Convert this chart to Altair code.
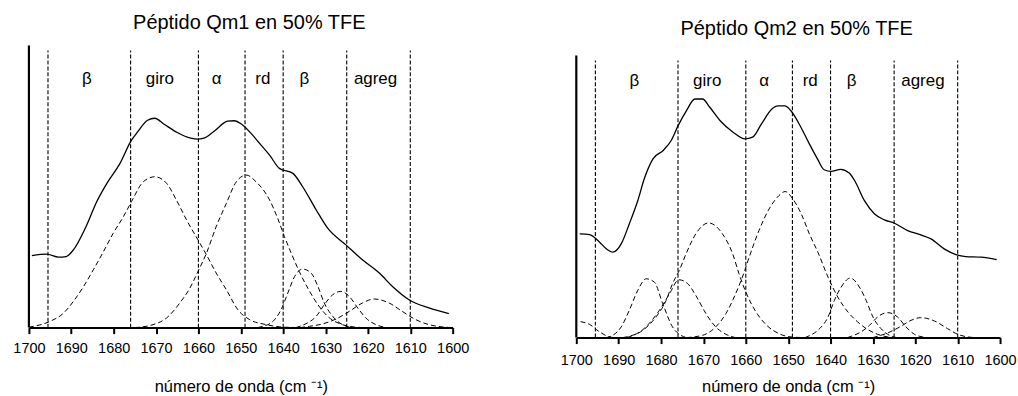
import altair as alt
import pandas as pd

FONT = "Liberation Sans"

# ---- shared annotation data ----
TICKS = list(range(1600, 1701, 10))
BAND_LIMITS = [1695.5, 1676, 1660, 1649, 1640, 1625, 1610]
REGION_LABELS = ["β", "giro", "α", "rd", "β", "agreg"]
REGION_CENTERS = [1686.3, 1669.1, 1655.7, 1644.8, 1635.0, 1618.2]

# ---- Qm1 (left): experimental spectrum and fitted components (w, absorbance a.u.) ----
QM1_EXP = [(1699.3, 72.3), (1695.8, 73.7), (1693, 70.7), (1691.2, 71.3), (1689.5, 78),
           (1686.7, 99.7), (1684, 126.3), (1681.6, 144.7), (1678.5, 164.7), (1675.8, 188),
           (1674.4, 196), (1672, 208), (1670.3, 210), (1668.1, 204), (1665, 195.7),
           (1661.8, 190), (1660.2, 189), (1658.7, 190), (1656.3, 197), (1653.1, 207),
           (1651.6, 207.5), (1649.8, 204), (1647, 192), (1645.6, 185), (1643.2, 173),
           (1640.9, 159.7), (1637.7, 154.7), (1635.4, 141.3), (1632.2, 118), (1629.5, 99.7),
           (1625.2, 83), (1621.3, 68), (1617.3, 54.7), (1614.2, 41.3), (1610.3, 28),
           (1605.6, 19.7), (1600.9, 14)]
QM1_C1 = [(1700, 0.5), (1698.9, 1.3), (1695, 6.3), (1691.8, 14.7), (1689.5, 26.3),
          (1687.1, 41.3), (1684.8, 58), (1682.4, 76.3), (1680.1, 94.7), (1677.7, 111.3),
          (1675.8, 126.3), (1673, 146.3), (1670.3, 151.3), (1667.5, 144.7), (1665.2, 128),
          (1662.8, 108), (1660.1, 88), (1658.1, 73), (1655.8, 54.7), (1653.4, 38),
          (1650.7, 18), (1647.9, 8), (1644, 3), (1640, 0.5), (1635, 0)]
QM1_C2 = [(1675, 0), (1670.7, 3), (1667.5, 9.7), (1664.4, 24.7), (1662, 39.7),
          (1660.1, 56.3), (1658.1, 74.7), (1655.8, 101.3), (1653.4, 124.7), (1651.1, 146),
          (1648.7, 153), (1646.4, 146.3), (1643.2, 128), (1641.3, 109.7), (1639.7, 91.3),
          (1638.1, 74.7), (1636.2, 56.3), (1634.2, 39.7), (1631.8, 23), (1629.5, 11.3),
          (1626.7, 4), (1624.4, 1.3), (1621, 0)]
QM1_C3 = [(1646, 0), (1644.8, 1.3), (1642.4, 6.3), (1640.5, 18), (1638.9, 34.7),
          (1637.3, 51.3), (1635.4, 58.7), (1633.4, 54.7), (1631.8, 41.3), (1630.3, 24.7),
          (1628.3, 11.3), (1626, 3), (1623.5, 0)]
QM1_C4 = [(1637, 0), (1634.6, 4), (1632.2, 11.3), (1630.3, 23), (1628.3, 33),
          (1626.4, 36.3), (1624.4, 31.3), (1622.4, 19.7), (1620.5, 9.7), (1618.1, 3),
          (1615.5, 0)]
QM1_C5 = [(1636, 0), (1633.8, 1.3), (1630.7, 3.7), (1627.5, 8.7), (1624.4, 16.3),
          (1621.3, 24.7), (1618.5, 28.7), (1615, 24.7), (1611.9, 16.3), (1608.7, 8),
          (1605.6, 3), (1602.4, 0.7), (1600, 0)]

# ---- Qm2 (right) ----
QM2_EXP = [(1699.2, 104), (1696.9, 103.3), (1694.5, 95.7), (1692.9, 89), (1691.4, 85.7),
           (1689.4, 94), (1687.5, 114), (1685.5, 137.3), (1683.9, 160), (1681.9, 179.3),
           (1679.5, 187.7), (1677.6, 197.7), (1676, 212.3), (1674, 227.7), (1672, 239.3),
           (1670.2, 239.3), (1668.5, 231), (1666.1, 217.7), (1663, 206), (1660.2, 199.3),
           (1658.4, 201), (1656.3, 214.3), (1653.9, 229), (1652.4, 232.3), (1650.8, 232.3),
           (1649.4, 227.7), (1647, 211), (1645, 194.3), (1643.1, 179.3), (1641.5, 168.3),
           (1639.9, 166.7), (1637.6, 168.7), (1635.6, 165), (1634.3, 157.3), (1632, 137.3),
           (1629.6, 124), (1627.3, 118), (1624.9, 114.7), (1621.8, 107.3), (1618.7, 103),
           (1616.3, 99), (1613.2, 89), (1610.4, 83.3), (1608.1, 81.3), (1604.5, 80.7),
           (1600.8, 78.3)]
QM2_C1 = [(1699, 16), (1696.9, 13.3), (1694.5, 5.7), (1692.2, 0.7), (1691, 0)]
QM2_C2 = [(1693, 0), (1691.4, 2.3), (1689.4, 10.7), (1687.5, 27.3), (1685.5, 47.3),
          (1683.5, 59), (1681.6, 55.7), (1679.6, 34), (1677.3, 10.7), (1675.7, 3.3),
          (1674, 0)]
QM2_C3 = [(1688, 0), (1684.3, 8), (1680.4, 27.3), (1678, 44), (1675.8, 58),
          (1673.7, 54), (1671.8, 42.3), (1669.4, 24), (1667.1, 10.7), (1664.7, 3.3),
          (1662.5, 0)]
QM2_C4 = [(1689, 0), (1687.5, 1.3), (1684.3, 7.3), (1681.2, 20.7), (1678.8, 37.3),
          (1677.3, 54), (1675.7, 67.3), (1674.1, 84), (1671.8, 104), (1668.8, 115),
          (1665.5, 104), (1663.1, 84), (1661.6, 64), (1660, 45.7), (1657.6, 25.7),
          (1655.3, 13.3), (1652.2, 4), (1649, 0.5), (1646, 0)]
QM2_C5 = [(1674, 0), (1670.2, 2.3), (1667.1, 10.7), (1664.7, 24), (1662.4, 44),
          (1660.8, 60.7), (1659.2, 80.7), (1656.9, 107.3), (1654.5, 129), (1652.2, 142.3),
          (1650.7, 146.5), (1648.9, 139), (1646.9, 124), (1645, 104), (1643, 85.7),
          (1640.6, 60.7), (1638.3, 40.7), (1635.9, 25.7), (1633.6, 15.7), (1631.2, 8),
          (1628.9, 3.3), (1626.5, 0.7), (1624, 0)]
QM2_C6 = [(1646, 0), (1645.3, 1.3), (1643, 7.3), (1640.6, 20.7), (1639.1, 37.3),
          (1637.5, 50.7), (1635.3, 59.7), (1633.2, 50.7), (1631.6, 37.3), (1630, 20.7),
          (1628.1, 9), (1626.1, 2.3), (1624.5, 0)]
QM2_C7 = [(1636, 0), (1635.1, 1.3), (1632.8, 5.7), (1630.8, 12.3), (1628.9, 20.7),
          (1626.5, 25), (1624.2, 20.7), (1622.2, 10.7), (1620.2, 3.3), (1618.3, 0.7),
          (1617, 0)]
QM2_C8 = [(1630, 0), (1628.9, 1.3), (1626.5, 4.7), (1623.4, 11.3), (1621, 17.3),
          (1618.7, 20), (1615.5, 16.7), (1612.4, 9), (1610, 3.3), (1607.7, 0.7),
          (1606, 0)]

AXIS_TOP = 283      # height of the drawn y-axis line (a.u.)
BAND_TOP = 278      # height of the dashed band separators (a.u.)


def curves_df(curves):
    rows = []
    for name, pts in curves:
        for w, a in pts:
            rows.append({"curve": name, "w": w, "a": a})
    return pd.DataFrame(rows)


def make_panel(title, exp, fits, plot_h, title_y, label_a, label_pad, title_pad):
    xs = alt.Scale(domain=[1600, 1700], reverse=True, nice=False, zero=False)
    ys = alt.Scale(domain=[0, plot_h], nice=False, zero=False)
    xaxis = alt.Axis(values=TICKS, format="d", grid=False, labelFlush=False,
                     labelFont=FONT, labelFontSize=14.5, labelColor="black",
                     labelPadding=label_pad, tickSize=6, tickWidth=2, tickColor="black",
                     domainColor="black", domainWidth=2,
                     title="número de onda (cm ⁻¹)", titleFont=FONT, titleFontSize=16.5,
                     titleFontWeight="normal", titleColor="black", titlePadding=title_pad)
    X = alt.X("w:Q", scale=xs, axis=xaxis)
    Y = alt.Y("a:Q", scale=ys, axis=None)

    bands = pd.DataFrame({"w": BAND_LIMITS, "a": [0] * len(BAND_LIMITS),
                          "a2": [BAND_TOP] * len(BAND_LIMITS)})
    vlines = alt.Chart(bands).mark_rule(color="black", strokeWidth=1.1,
                                        strokeDash=[4, 2]).encode(x=X, y=Y, y2="a2:Q")

    yline_df = pd.DataFrame({"w": [1700], "a": [0], "a2": [AXIS_TOP]})
    yline = alt.Chart(yline_df).mark_rule(color="black", strokeWidth=2.2).encode(
        x=X, y=Y, y2="a2:Q")

    fit_lines = alt.Chart(curves_df(fits)).mark_line(
        color="black", strokeWidth=1, strokeDash=[5, 3], interpolate="monotone"
    ).encode(x=X, y=Y, detail="curve:N")

    exp_line = alt.Chart(curves_df([("exp", exp)])).mark_line(
        color="black", strokeWidth=1.3, interpolate="monotone"
    ).encode(x=X, y=Y)

    lab_df = pd.DataFrame({"w": REGION_CENTERS, "a": [label_a] * len(REGION_CENTERS),
                           "t": REGION_LABELS})
    labels = alt.Chart(lab_df).mark_text(font=FONT, fontSize=17, color="black",
                                         baseline="middle", align="center").encode(
        x=X, y=Y, text="t:N")

    title_df = pd.DataFrame({"w": [1648], "t": [title]})
    ttl = alt.Chart(title_df).mark_text(font=FONT, fontSize=20, color="black",
                                        baseline="middle", align="center").encode(
        x=X, y=alt.value(title_y), text="t:N")

    return alt.layer(vlines, fit_lines, exp_line, yline, labels, ttl).properties(
        width=425, height=plot_h)


left = make_panel("Péptido Qm1 en 50% TFE", QM1_EXP,
                  [("c1", QM1_C1), ("c2", QM1_C2), ("c3", QM1_C3), ("c4", QM1_C4),
                   ("c5", QM1_C5)],
                  plot_h=318, title_y=13, label_a=249, label_pad=8, title_pad=24)
right = make_panel("Péptido Qm2 en 50% TFE", QM2_EXP,
                   [("c1", QM2_C1), ("c2", QM2_C2), ("c3", QM2_C3), ("c4", QM2_C4),
                    ("c5", QM2_C5), ("c6", QM2_C6), ("c7", QM2_C7), ("c8", QM2_C8)],
                   plot_h=328, title_y=19, label_a=257, label_pad=10, title_pad=12)

chart = alt.hconcat(left, right, spacing=90).properties(
    padding={"left": 12, "top": 10, "right": 1, "bottom": 0},
    background="white",
).configure_view(stroke=None)

chart.save("out.html", embed_options={"renderer": "svg", "actions": False})
